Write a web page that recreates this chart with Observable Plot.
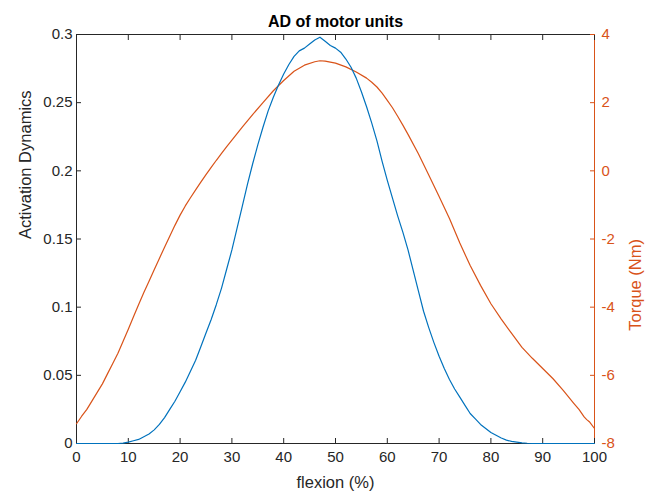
<!DOCTYPE html>
<html>
<head>
<meta charset="utf-8">
<script src="https://cdn.jsdelivr.net/npm/d3@7"></script>
<script src="https://cdn.jsdelivr.net/npm/@observablehq/plot@0.6"></script>
<style>
  html, body { margin: 0; padding: 0; background: #fff; }
  svg { display: block; }
</style>
</head>
<body>
<div id="chart"></div>
<script>
// ---- data ----
const title = "AD of motor units";
const xLabel = "flexion (%)";
const yLeftLabel = "Activation Dynamics";
const yRightLabel = "Torque (Nm)";

const xTicks = [0, 10, 20, 30, 40, 50, 60, 70, 80, 90, 100];
const yLeftTicks = [0, 0.05, 0.1, 0.15, 0.2, 0.25, 0.3];
const yLeftTickLabels = ["0", "0.05", "0.1", "0.15", "0.2", "0.25", "0.3"];
const yRightTicks = [-8, -6, -4, -2, 0, 2, 4];
const yLeftDomain = [0, 0.3];
const yRightDomain = [-8, 4];

// Activation dynamics (blue, left axis)
const adX = [0, 5, 8, 9, 10, 11, 12, 13, 14, 15, 16, 17, 18, 19, 20, 21, 22, 23, 24, 25, 26, 27, 28, 29, 30,
  31, 32, 33, 34, 35, 36, 37, 38, 39, 40, 41, 42, 43, 44, 45, 46, 47, 48, 49, 50, 51, 52, 53, 54, 55, 56, 57, 58, 59, 60,
  61, 62, 63, 64, 65, 66, 67, 68, 69, 70, 71, 72, 73, 74, 75, 76, 77, 78, 79, 80, 81, 82, 83, 84, 85, 86, 87, 88, 90, 95, 100];
const adY = [0, 0, 0, 0.0003, 0.001, 0.002, 0.003, 0.005, 0.007, 0.010, 0.014, 0.019, 0.025, 0.031, 0.038, 0.045, 0.053, 0.061, 0.071, 0.081, 0.091, 0.102, 0.114, 0.128, 0.142,
  0.158, 0.174, 0.190, 0.205, 0.219, 0.232, 0.244, 0.254, 0.263, 0.271, 0.278, 0.284, 0.288, 0.290, 0.293, 0.296, 0.298, 0.295, 0.292, 0.290, 0.287, 0.282, 0.276, 0.268, 0.258, 0.247, 0.235, 0.222, 0.207, 0.193,
  0.180, 0.167, 0.155, 0.142, 0.127, 0.112, 0.097, 0.085, 0.074, 0.064, 0.055, 0.047, 0.040, 0.034, 0.028, 0.022, 0.018, 0.014, 0.011, 0.008, 0.006, 0.004, 0.0025, 0.0015, 0.001, 0.0005, 0.0002, 0, 0, 0, 0];

// Torque (orange, right axis)
const tqX = [0, 1, 2, 3, 4, 5, 6, 7, 8, 9, 10, 11, 12, 13, 14, 15, 16, 17, 18, 19, 20, 21, 22, 23, 24, 25, 26, 27, 28, 29, 30,
  32, 34, 36, 38, 40, 42, 44, 46, 47, 48, 50, 52, 54, 56, 57, 58, 59, 60, 61, 62, 63, 64, 66, 68, 70, 72, 74, 76, 78, 80, 82, 84, 86, 88, 90, 92, 94, 96, 97, 98, 98.5, 99, 100];
const tqY = [-7.42, -7.2, -7.0, -6.75, -6.5, -6.25, -5.95, -5.65, -5.35, -5.0, -4.65, -4.28, -3.92, -3.57, -3.24, -2.90, -2.57, -2.24, -1.92, -1.60, -1.30, -1.03, -0.79, -0.56, -0.33, -0.11, 0.10, 0.31, 0.51, 0.71, 0.90,
  1.28, 1.65, 2.0, 2.35, 2.65, 2.92, 3.10, 3.20, 3.23, 3.22, 3.16, 3.05, 2.90, 2.72, 2.60, 2.46, 2.28, 2.07, 1.85, 1.60, 1.34, 1.07, 0.50, -0.12, -0.75, -1.40, -2.12, -2.78, -3.36, -3.90, -4.35, -4.77, -5.18, -5.50, -5.80, -6.10, -6.45, -6.82, -7.00, -7.22, -7.30, -7.36, -7.56];

// ---- mapping torque onto the shared y scale ----
const toLeft = t => yLeftDomain[0] + (t - yRightDomain[0]) / (yRightDomain[1] - yRightDomain[0]) * (yLeftDomain[1] - yLeftDomain[0]);
const toRight = v => yRightDomain[0] + (v - yLeftDomain[0]) / (yLeftDomain[1] - yLeftDomain[0]) * (yRightDomain[1] - yRightDomain[0]);

const adData = adX.map((x, i) => ({x, y: adY[i]}));
const tqData = tqX.map((x, i) => ({x, y: toLeft(tqY[i])}));

const BLUE = "#0072BD";
const ORANGE = "#D95319";
const AXIS = "#262626";
const FONT = "'Liberation Sans', Arial, Helvetica, sans-serif";

const chart = Plot.plot({
  width: 655,
  height: 496,
  marginLeft: 76,
  marginRight: 61,
  marginTop: 34,
  marginBottom: 53,
  style: {fontFamily: FONT, fontSize: "15px", color: AXIS, background: "#fff"},
  x: {domain: [0, 100]},
  y: {domain: yLeftDomain},
  marks: [
    // frame lines
    Plot.ruleY([yLeftDomain[1]], {stroke: AXIS, strokeWidth: 1}),
    Plot.ruleY([yLeftDomain[0]], {stroke: AXIS, strokeWidth: 1}),
    Plot.ruleX([0], {stroke: AXIS, strokeWidth: 1}),
    Plot.ruleX([100], {stroke: ORANGE, strokeWidth: 1}),
    // axes
    Plot.axisX({anchor: "bottom", ticks: xTicks, tickSize: -5, tickPadding: 13, label: null, stroke: AXIS, fill: AXIS, fontSize: 15}),
    Plot.axisX({anchor: "top", ticks: xTicks, tickSize: -5, tickFormat: () => "", label: null, stroke: AXIS}),
    Plot.axisY({anchor: "left", ticks: yLeftTicks, tickSize: -5, tickPadding: 9, label: null, stroke: AXIS, fill: AXIS, fontSize: 15,
      tickFormat: d => yLeftTickLabels[yLeftTicks.indexOf(d)]}),
    Plot.axisY({anchor: "right", ticks: yRightTicks.map(toLeft), tickSize: -5, tickPadding: 12, label: null, stroke: ORANGE, fill: ORANGE, fontSize: 15,
      tickFormat: d => String(Math.round(toRight(d)))}),
    // series
    Plot.line(tqData, {x: "x", y: "y", stroke: ORANGE, strokeWidth: 1.2, curve: "linear"}),
    Plot.line(adData, {x: "x", y: "y", stroke: BLUE, strokeWidth: 1.2, curve: "linear"}),
    // texts
    Plot.text([title], {frameAnchor: "top", lineAnchor: "middle", dy: -13, fontWeight: "bold", fontSize: 16, fill: "#000"}),
    Plot.text([xLabel], {frameAnchor: "bottom", lineAnchor: "middle", dy: 39, fontSize: 16.5, fill: AXIS}),
    Plot.text([yLeftLabel], {frameAnchor: "left", lineAnchor: "middle", dx: -51, rotate: -90, fontSize: 16.5, fill: AXIS}),
    Plot.text([yRightLabel], {frameAnchor: "right", lineAnchor: "middle", dx: 41, rotate: -90, fontSize: 16.5, fill: ORANGE})
  ]
});
document.getElementById("chart").appendChild(chart);
</script>
</body>
</html>
